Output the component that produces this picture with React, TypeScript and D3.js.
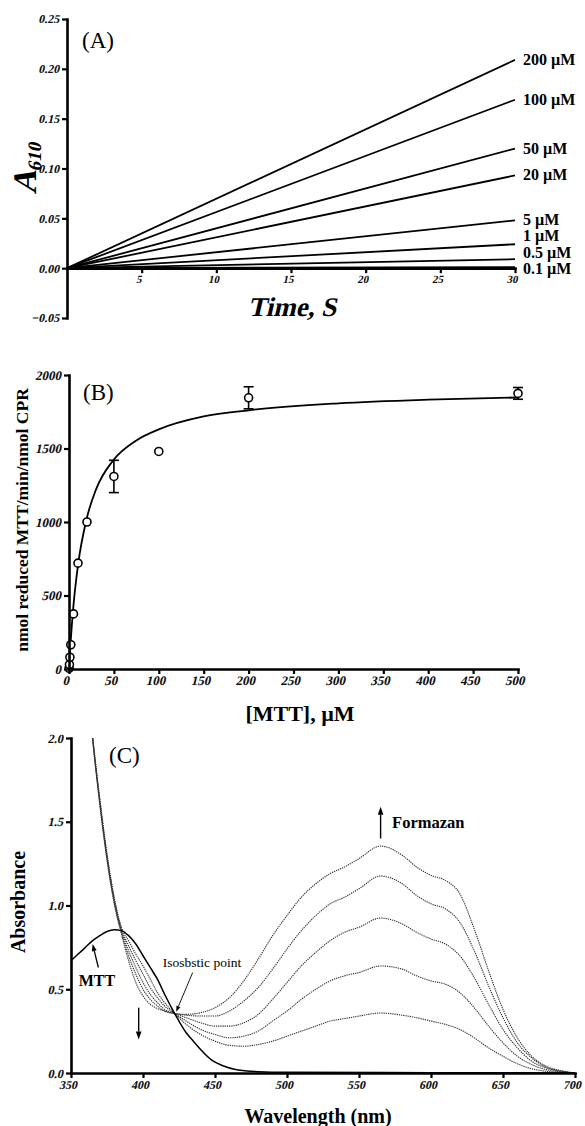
import React, { useRef, useEffect } from "react";
import * as d3 from "d3";

const SERIF = "'Liberation Serif', 'Times New Roman', serif";
// bold-italic face is faked with a skew so the serif family is kept
const SLANT = "skewX(-13)";

// ---- (A) A610 traces, 0-30 s
const timeTicks = [5, 10, 15, 20, 25, 30];
const a610Ticks = [-0.05, 0, 0.05, 0.1, 0.15, 0.2, 0.25];
const mttLevels = ["200 µM", "100 µM", "50 µM", "20 µM", "5 µM", "1 µM", "0.5 µM", "0.1 µM"];
const a610Start = [0, 0, 0, 0, 0, 0, 0, 0];
const a610End = [0.209, 0.169, 0.12, 0.093, 0.048, 0.024, 0.009, 0.001];
const traceTimes = [0, 30];

// ---- (B) rate vs [MTT]
const mttConc = [0.1, 0.5, 1, 2, 5, 10, 20, 50, 100, 200, 500];
const mttRate = [5, 30, 80, 165, 375, 720, 1000, 1310, 1480, 1845, 1875];
const mttRateErr = [0, 0, 0, 0, 0, 0, 0, 110, 0, 75, 40];
const fitConc = [0, 1, 2, 5, 10, 20, 30, 50, 75, 100, 150, 200, 300, 400, 500];
const fitRate = [0, 105, 200, 435, 705, 1030, 1220, 1425, 1555, 1630, 1718, 1760, 1807, 1832, 1847];
const concTicks = [0, 50, 100, 150, 200, 250, 300, 350, 400, 450, 500];
const rateTicks = [0, 500, 1000, 1500, 2000];

// ---- (C) spectra
const waveTicks = [350, 400, 450, 500, 550, 600, 650, 700];
const absTicks = [0, 0.5, 1, 1.5, 2];
const mttWave = [350, 355, 360, 365, 370, 375, 380, 385, 390, 395, 400, 405, 410, 415, 422, 430, 435, 440, 448, 455, 465, 480, 500, 600, 700];
const mttAbs = [0.67, 0.71, 0.75, 0.79, 0.82, 0.845, 0.855, 0.85, 0.82, 0.77, 0.7, 0.63, 0.56, 0.47, 0.355, 0.24, 0.19, 0.14, 0.075, 0.045, 0.02, 0.008, 0.004, 0.002, 0];
const scanWave = [360, 365, 370, 375, 380, 385, 390, 395, 400, 405, 410, 415, 422, 430, 440, 450, 460, 470, 480, 490, 500, 510, 520, 530, 540, 550, 565, 580, 590, 600, 610, 620, 630, 640, 650, 660, 670, 680, 690, 700];
const scan1 = [2.5, 2.02, 1.64, 1.31, 1.05, 0.87, 0.79, 0.71, 0.64, 0.56, 0.48, 0.42, 0.355, 0.29, 0.23, 0.19, 0.165, 0.16, 0.17, 0.19, 0.22, 0.25, 0.28, 0.31, 0.325, 0.34, 0.358, 0.345, 0.33, 0.31, 0.29, 0.26, 0.21, 0.15, 0.1, 0.055, 0.025, 0.01, 0.004, 0];
const scan2 = [2.5, 2.01, 1.63, 1.3, 1.04, 0.86, 0.76, 0.67, 0.59, 0.51, 0.45, 0.4, 0.355, 0.31, 0.26, 0.23, 0.21, 0.22, 0.25, 0.31, 0.37, 0.44, 0.5, 0.55, 0.58, 0.6, 0.639, 0.62, 0.58, 0.55, 0.53, 0.48, 0.39, 0.28, 0.18, 0.1, 0.05, 0.02, 0.007, 0];
const scan3 = [2.49, 2.0, 1.62, 1.29, 1.03, 0.85, 0.73, 0.63, 0.54, 0.47, 0.42, 0.38, 0.355, 0.33, 0.3, 0.28, 0.28, 0.3, 0.35, 0.44, 0.54, 0.64, 0.72, 0.79, 0.84, 0.87, 0.925, 0.89, 0.84, 0.8, 0.77, 0.7, 0.57, 0.41, 0.26, 0.15, 0.07, 0.03, 0.01, 0];
const scan4 = [2.48, 2.0, 1.61, 1.28, 1.02, 0.84, 0.7, 0.59, 0.5, 0.44, 0.4, 0.37, 0.355, 0.345, 0.34, 0.34, 0.37, 0.43, 0.51, 0.62, 0.74, 0.85, 0.94, 1.01, 1.05, 1.1, 1.176, 1.13, 1.06, 1.01, 0.98, 0.9, 0.73, 0.52, 0.33, 0.18, 0.09, 0.035, 0.012, 0];
const scan5 = [2.47, 1.99, 1.6, 1.27, 1.01, 0.83, 0.67, 0.54, 0.46, 0.41, 0.385, 0.37, 0.355, 0.35, 0.36, 0.39, 0.45, 0.55, 0.68, 0.82, 0.94, 1.05, 1.13, 1.19, 1.23, 1.28, 1.355, 1.3, 1.23, 1.18, 1.15, 1.07, 0.86, 0.61, 0.38, 0.21, 0.1, 0.04, 0.015, 0];
const scans = [scan1, scan2, scan3, scan4, scan5];

type AxisProps = {
  scale: any;
  orient: "left" | "bottom";
  x: number;
  y: number;
  ticks: number[];
  fmt: (d: number) => string;
  fontSize: number;
};

const Axis = ({ scale, orient, x, y, ticks, fmt, fontSize }: AxisProps) => {
  const ref = useRef<SVGGElement>(null);
  useEffect(() => {
    const ax = orient === "left" ? d3.axisLeft(scale) : d3.axisBottom(scale);
    ax.tickValues(ticks).tickFormat(fmt as any).tickSize(5).tickSizeOuter(0).tickPadding(2);
    const g = d3.select(ref.current!).call(ax as any);
    g.select(".domain").attr("stroke", "#000").attr("stroke-width", 2.6).attr("stroke-linecap", "square");
    g.selectAll(".tick line").attr("stroke", "#000").attr("stroke-width", 2.2);
    g.selectAll(".tick text")
      .attr("font-family", SERIF)
      .attr("font-weight", "bold")
      .attr("font-style", "normal")
      .attr("font-size", fontSize)
      .attr("fill", "#111")
      .attr("transform", SLANT);
  });
  return <g ref={ref} transform={`translate(${x},${y})`} />;
};

const Arrow = ({ x1, y1, x2, y2, head = 8, w = 1.6 }: any) => {
  const ang = Math.atan2(y2 - y1, x2 - x1);
  const bx = x2 - head * Math.cos(ang), by = y2 - head * Math.sin(ang);
  const px = Math.sin(ang) * head * 0.35, py = -Math.cos(ang) * head * 0.35;
  return (
    <g>
      <line x1={x1} y1={y1} x2={bx} y2={by} stroke="#000" strokeWidth={w} />
      <path d={`M${x2},${y2}L${bx + px},${by + py}L${bx - px},${by - py}Z`} fill="#000" />
    </g>
  );
};

const PanelA = () => {
  const x = d3.scaleLinear().domain([0, 30]).range([67, 515]);
  const y = d3.scaleLinear().domain([-0.05, 0.25]).range([318, 19]);
  const line = d3.line<number>().x((t) => x(t));
  // stack labels upward so they do not collide at the low end
  const labelY: number[] = new Array(mttLevels.length);
  for (let i = mttLevels.length - 1; i >= 0; i--) {
    const own = y(a610End[i]) + 5;
    labelY[i] = i === mttLevels.length - 1 ? own + 2 : Math.min(own, labelY[i + 1] - 16.5);
  }
  return (
    <g>
      {a610End.map((v, i) => (
        <path
          key={i}
          d={line.y((t) => y(t === 0 ? a610Start[i] : v))(traceTimes) || ""}
          stroke="#000"
          strokeWidth={1.8}
          fill="none"
        />
      ))}
      <Axis scale={y} orient="left" x={67} y={0} ticks={a610Ticks} fmt={d3.format(".2f")} fontSize={12} />
      <Axis scale={x} orient="bottom" x={0} y={y(0)} ticks={timeTicks} fmt={d3.format("d")} fontSize={11} />
      {mttLevels.map((l, i) => (
        <text key={l} x={523} y={labelY[i]} fontFamily={SERIF} fontWeight="bold" fontSize={16}>{l}</text>
      ))}
      <text x={82} y={48} fontFamily={SERIF} fontSize={23}>(A)</text>
      <text transform={`translate(36,168) rotate(-90) ${SLANT}`} textAnchor="middle" fontFamily={SERIF} fontWeight="bold" fontSize={33}>
        A<tspan fontSize={19} dy={5}>610</tspan>
      </text>
      <g transform={`translate(292,316) ${SLANT}`}>
        <text x={0} y={0} textAnchor="middle" fontFamily={SERIF} fontWeight="bold" fontSize={27}>Time, S</text>
      </g>
    </g>
  );
};

const PanelB = () => {
  const x = d3.scaleLinear().domain([0, 500]).range([69, 518]);
  const y = d3.scaleLinear().domain([0, 2000]).range([669, 375]);
  const fit = d3
    .line<number>()
    .x((_, i) => x(fitConc[i]))
    .y((d) => y(d))
    .curve(d3.curveMonotoneX)(fitRate);
  return (
    <g>
      <path d={fit || ""} stroke="#000" strokeWidth={1.8} fill="none" />
      {mttConc.map((c, i) =>
        mttRateErr[i] > 0 ? (
          <g key={"e" + i} stroke="#000" strokeWidth={1.6}>
            <line x1={x(c)} x2={x(c)} y1={y(mttRate[i] - mttRateErr[i])} y2={y(mttRate[i] + mttRateErr[i])} />
            <line x1={x(c) - 5} x2={x(c) + 5} y1={y(mttRate[i] - mttRateErr[i])} y2={y(mttRate[i] - mttRateErr[i])} />
            <line x1={x(c) - 5} x2={x(c) + 5} y1={y(mttRate[i] + mttRateErr[i])} y2={y(mttRate[i] + mttRateErr[i])} />
          </g>
        ) : null
      )}
      {mttConc.map((c, i) => (
        <circle key={i} cx={x(c)} cy={y(mttRate[i])} r={4} fill="#fff" stroke="#000" strokeWidth={1.6} />
      ))}
      <Axis scale={y} orient="left" x={69} y={0} ticks={rateTicks} fmt={d3.format("d")} fontSize={13} />
      <Axis scale={x} orient="bottom" x={0} y={669} ticks={concTicks} fmt={d3.format("d")} fontSize={13} />
      <text x={83} y={400} fontFamily={SERIF} fontSize={23}>(B)</text>
      <text transform="translate(28,520) rotate(-90)" textAnchor="middle" fontFamily={SERIF} fontWeight="bold" fontSize={17.5}>
        nmol reduced MTT/min/nmol CPR
      </text>
      <text x={300} y={721} textAnchor="middle" fontFamily={SERIF} fontWeight="bold" fontSize={22}>[MTT], µM</text>
    </g>
  );
};

const PanelC = () => {
  const x = d3.scaleLinear().domain([350, 700]).range([71, 575]);
  const y = d3.scaleLinear().domain([0, 2]).range([1073, 738]);
  const mttLine = d3
    .line<number>()
    .x((_, i) => x(mttWave[i]))
    .y((d) => y(d))
    .curve(d3.curveMonotoneX)(mttAbs);
  const scanLine = d3
    .line<number>()
    .x((_, i) => x(scanWave[i]))
    .y((d) => y(d))
    .curve(d3.curveMonotoneX);
  return (
    <g>
      <defs>
        <clipPath id="clipC">
          <rect x={71} y={738} width={506} height={336} />
        </clipPath>
      </defs>
      <g clipPath="url(#clipC)">
        {scans.map((s, i) => (
          <path key={i} d={scanLine(s) || ""} stroke="#333" strokeWidth={1.1} strokeDasharray="1.3,0.9" fill="none" />
        ))}
        <path d={mttLine || ""} stroke="#000" strokeWidth={1.5} fill="none" />
      </g>
      <Axis scale={y} orient="left" x={71} y={0} ticks={absTicks} fmt={d3.format(".1f")} fontSize={12.5} />
      <Axis scale={x} orient="bottom" x={0} y={1073} ticks={waveTicks} fmt={d3.format("d")} fontSize={12} />
      <text x={109} y={763} fontFamily={SERIF} fontSize={23}>(C)</text>
      <text transform="translate(25,902) rotate(-90)" textAnchor="middle" fontFamily={SERIF} fontWeight="bold" fontSize={20}>Absorbance</text>
      <text x={318} y={1123} textAnchor="middle" fontFamily={SERIF} fontWeight="bold" fontSize={20}>Wavelength (nm)</text>
      <Arrow x1={x(369)} y1={y(0.63)} x2={x(365)} y2={y(0.77)} head={7} w={1.3} />
      <text x={x(368)} y={y(0.52)} textAnchor="middle" fontFamily={SERIF} fontWeight="bold" fontSize={16}>MTT</text>
      <Arrow x1={x(397)} y1={y(0.39)} x2={x(397)} y2={y(0.2)} head={8} w={1.4} />
      <text x={x(441)} y={y(0.63)} textAnchor="middle" fontFamily={SERIF} fontSize={13.5}>Isosbstic point</text>
      <Arrow x1={x(434.5)} y1={y(0.6)} x2={x(423)} y2={y(0.365)} head={6} w={0.9} />
      <Arrow x1={x(565)} y1={y(1.4)} x2={x(565)} y2={y(1.59)} head={8} w={1.4} />
      <text x={x(573)} y={y(1.46)} fontFamily={SERIF} fontWeight="bold" fontSize={16.5}>Formazan</text>
    </g>
  );
};

const App = () => (
  <svg width={585} height={1126} style={{ position: "absolute", left: 0, top: 0, background: "#fff" }}>
    <rect width={585} height={1126} fill="#fff" />
    <PanelA />
    <PanelB />
    <PanelC />
  </svg>
);

export default App;
